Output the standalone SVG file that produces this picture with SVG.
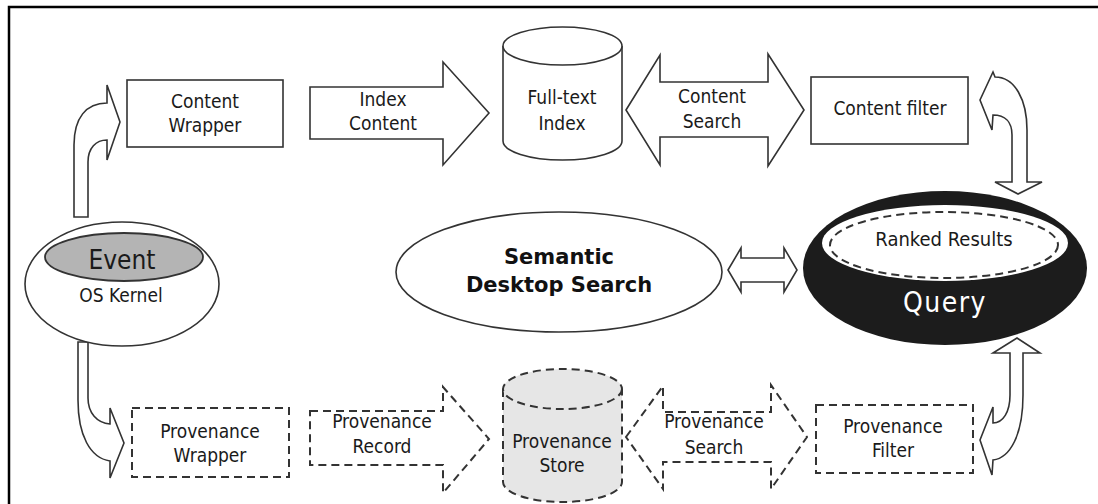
<svg xmlns="http://www.w3.org/2000/svg" width="1098" height="504" viewBox="0 0 1098 504">
<style>
.s{fill:#fff;stroke:#333;stroke-width:1.6;stroke-linejoin:miter}
.d{fill:#fff;stroke:#333;stroke-width:2;stroke-dasharray:8 5}
.t{font-family:"DejaVu Sans Condensed","DejaVu Sans",sans-serif;font-size:19px;fill:#1a1a1a;text-anchor:middle}
.b{font-family:"DejaVu Sans","Liberation Sans",sans-serif;font-weight:bold;font-size:21px;fill:#111;text-anchor:middle}
</style>
<rect x="0" y="0" width="1098" height="504" fill="#fff"/>
<rect x="9" y="7" width="1200" height="600" fill="none" stroke="#000" stroke-width="2.5"/>
<g id="connectors">
<path class="s" d="M74 217 L74 145 C74 118 86 103 107 103 L107 85 L120 122 L107 160 L107 140 C96 140 88 148 88 162 L88 217 Z"/>
<path class="s" d="M78 342 L78 400 C78 435 90 458 110 461 L110 478 L124 443 L110 408 L110 424 C97 423 88 413 88 398 L88 342 Z"/>
<path class="s" d="M310 87 L443 87 L443 62 L489 113 L443 165 L443 139 L310 139 Z"/>
<path class="s" d="M626 110 L660 55 L660 82 L768 82 L768 54 L804 110 L768 166 L768 137 L660 137 L660 165 Z"/>
<path class="s" d="M1012 182 L1012 135 C1012 122 1005 115 993 115 L992 130 L980 100 L993 72 L995 77 C1015 77 1027 100 1027 130 L1027 182 L1042 182 L1018 194 L995 182 Z"/>
<path class="s" d="M728 270 L741 248 L741 258 L784 258 L784 248 L797 270 L784 292 L784 282 L741 282 L741 292 Z"/>
<path class="s" d="M1010 353 L993 353 L1017 338 L1040 353 L1023 353 L1023 395 C1023 435 1010 458 993 460 L992 475 L980 440 L993 407 L993 423 C1003 423 1010 412 1010 395 Z"/>
<path class="d" d="M310 411 L443 411 L443 387 L489 439 L443 493 L443 465 L310 465 Z"/>
<path class="d" d="M626 437 L663 386 L663 412 L771 412 L771 385 L807 437 L771 489 L771 462 L663 462 L663 489 Z"/>
</g>
<g id="os-kernel">
<ellipse class="s" cx="122" cy="284" rx="97" ry="62"/>
<ellipse cx="124" cy="257" rx="79" ry="24" fill="#b4b4b4" stroke="#333" stroke-width="1.8"/>
<text class="t" x="122" y="269" style="font-size:26px">Event</text>
<text class="t" x="121" y="302">OS Kernel</text>
</g>
<g id="content-wrapper">
<rect class="s" x="127" y="80" width="156" height="67"/>
<text class="t" x="205" y="108">Content</text>
<text class="t" x="205" y="132">Wrapper</text>
</g>
<g id="index-content">
<text class="t" x="383" y="106">Index</text>
<text class="t" x="383" y="130">Content</text>
</g>
<g id="full-text-index">
<path class="s" d="M503 46 L503 141 A59.5 19 0 0 0 622 141 L622 46"/>
<ellipse class="s" cx="562.5" cy="46" rx="59.5" ry="19"/>
<text class="t" x="562" y="104">Full-text</text>
<text class="t" x="562" y="130">Index</text>
</g>
<g id="content-search">
<text class="t" x="712" y="103">Content</text>
<text class="t" x="712" y="128">Search</text>
</g>
<g id="content-filter">
<rect class="s" x="811" y="77" width="157" height="67"/>
<text class="t" x="890" y="115">Content filter</text>
</g>
<g id="semantic-desktop-search">
<ellipse class="s" cx="559" cy="272" rx="163" ry="60"/>
<text class="b" x="559" y="264">Semantic</text>
<text class="b" x="559" y="292">Desktop Search</text>
</g>
<g id="query">
<ellipse cx="945" cy="268" rx="142" ry="77" fill="#1c1c1c"/>
<ellipse cx="945" cy="243" rx="123" ry="38" fill="#fff"/>
<ellipse cx="944" cy="245" rx="114" ry="33" fill="none" stroke="#333" stroke-width="2" stroke-dasharray="8 5"/>
<text class="t" x="944" y="246" style="font-size:20px">Ranked Results</text>
<text class="t" x="945" y="312" style="font-size:28px;letter-spacing:1.5px;fill:#fff">Query</text>
</g>
<g id="provenance-wrapper">
<rect class="d" x="132" y="408" width="157" height="69"/>
<text class="t" x="210" y="438">Provenance</text>
<text class="t" x="210" y="462">Wrapper</text>
</g>
<g id="provenance-record">
<text class="t" x="382" y="428">Provenance</text>
<text class="t" x="382" y="453">Record</text>
</g>
<g id="provenance-store">
<path d="M503 389 L503 482 A59.5 20 0 0 0 622 482 L622 389" fill="#e6e6e6" stroke="#333" stroke-width="2" stroke-dasharray="8 5"/>
<ellipse cx="562.5" cy="389" rx="59.5" ry="20" fill="#e6e6e6" stroke="#333" stroke-width="2" stroke-dasharray="8 5"/>
<text class="t" x="562" y="448">Provenance</text>
<text class="t" x="562" y="472">Store</text>
</g>
<g id="provenance-search">
<text class="t" x="714" y="428">Provenance</text>
<text class="t" x="714" y="454">Search</text>
</g>
<g id="provenance-filter">
<rect class="d" x="816" y="405" width="157" height="68"/>
<text class="t" x="893" y="433">Provenance</text>
<text class="t" x="893" y="457">Filter</text>
</g>
</svg>
